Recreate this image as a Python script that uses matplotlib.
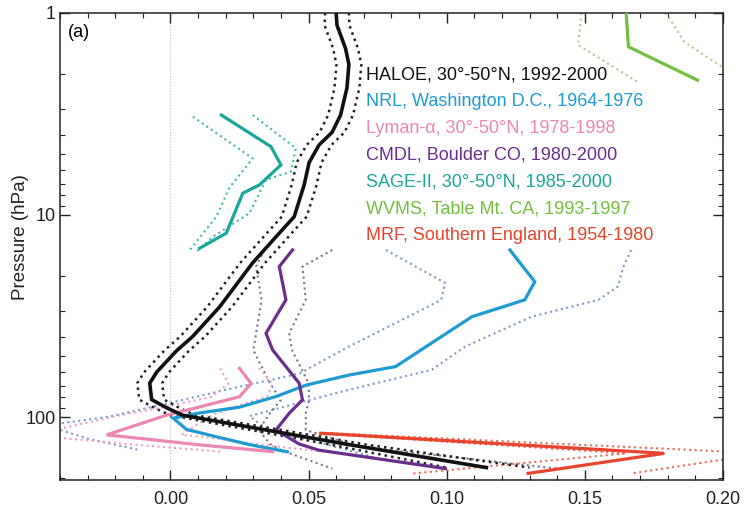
import matplotlib
matplotlib.use('Agg')
import matplotlib.pyplot as plt
from matplotlib.ticker import FixedLocator, FixedFormatter, LogLocator, NullFormatter, MultipleLocator

plt.rcParams['font.family'] = ['Liberation Sans', 'DejaVu Sans']

# ---------------- data (pressure in hPa, trend per year) ----------------
haloe_p = [1.0, 1.15, 1.5, 1.8, 2.35, 3.2, 3.9, 4.5, 5.5, 7.1, 10.2, 12.3, 17.3, 28.5,
           40, 47, 60, 68, 82, 90, 98, 137, 178]
haloe_x = [0.060, 0.0603, 0.0634, 0.0646, 0.0639, 0.0616, 0.0585, 0.0538, 0.0502, 0.0484,
           0.0448, 0.0394, 0.0297, 0.0178, 0.008, 0.0022, -0.005, -0.0075, -0.0068,
           -0.0014, 0.0044, 0.0646, 0.1144]
haloe_lo = [0.056, 0.0558, 0.0589, 0.0601, 0.0594, 0.0571, 0.0540, 0.0493, 0.0457, 0.0439,
            0.0403, 0.0349, 0.0252, 0.0133, 0.0035, -0.0023, -0.0095, -0.012, -0.0113,
            -0.0059, -0.0001, 0.058, 0.100]
haloe_hi = [0.0646, 0.0648, 0.0679, 0.0691, 0.0684, 0.0661, 0.0630, 0.0583, 0.0547, 0.0529,
            0.0493, 0.0439, 0.0342, 0.0223, 0.0125, 0.0067, -0.0005, -0.003, -0.0023,
            0.0031, 0.0089, 0.071, 0.130]

nrl_p = [14.9, 21.4, 26.3, 31.9, 56.3, 62, 69.6, 79.2, 89.4, 95.5, 101.3, 115.2, 125.2, 137, 148.7]
nrl_x = [0.1229, 0.1319, 0.1283, 0.1091, 0.0815, 0.0646, 0.049, 0.0382, 0.025, 0.0106,
         0.001, 0.0058, 0.0166, 0.0286, 0.0423]
nrl_lo_p = [14.9, 21.7, 26.3, 30.6, 44.8, 61, 72, 85, 99.5, 110, 128, 145]
nrl_lo_x = [0.078, 0.0995, 0.098, 0.0887, 0.0646, 0.0466, 0.0225, 0.0, -0.022, -0.045, -0.03, -0.012]
nrl_hi_p = [14.9, 18, 22.6, 26.3, 31.9, 44.8, 58.4, 73.3, 85, 99, 115, 135, 160]
nrl_hi_x = [0.1668, 0.164, 0.162, 0.155, 0.1307, 0.1067, 0.0946, 0.0646, 0.0466, 0.0286,
            0.035, 0.055, 0.075]

ly_p = [57.4, 68.2, 79.4, 89.1, 97.9, 122.6, 125.0, 137.4, 148.4]
ly_x = [0.025, 0.0292, 0.025, 0.0106, -0.0014, -0.0231, -0.0171, 0.0106, 0.037]
ly_lo = [0.018, 0.021, 0.015, -0.002, -0.018, -0.05, -0.045, -0.012, 0.018]
ly_hi = [0.032, 0.037, 0.035, 0.023, 0.015, 0.004, 0.011, 0.033, 0.056]

cm_p = [14.9, 18.0, 26.3, 38.5, 46.6, 68, 82.3, 95.8, 116, 136, 146, 180]
cm_x = [0.0442, 0.0394, 0.0418, 0.0346, 0.037, 0.0466, 0.0478, 0.043, 0.0382, 0.0466, 0.0538, 0.0995]
cm_lo = [0.034, 0.031, 0.033, 0.031, 0.030, 0.036, 0.040, 0.036, 0.032, 0.036, 0.040, 0.0586]
cm_hi = [0.0586, 0.0478, 0.049, 0.043, 0.044, 0.050, 0.0502, 0.049, 0.049, 0.065, 0.080, 0.140]

sg_p = [3.20, 4.59, 5.65, 7.1, 7.8, 12.3, 14.6]
sg_x = [0.0184, 0.0364, 0.040, 0.0322, 0.0262, 0.0202, 0.0106]
sg_lo_p = [3.26, 5.25, 7.3, 10.2, 14.9]
sg_lo_x = [0.0081, 0.0298, 0.0214, 0.0166, 0.007]
sg_hi_p = [3.2, 4.67, 6.1, 6.7, 9.8, 12.8, 15.2]
sg_hi_x = [0.0298, 0.0454, 0.0436, 0.0346, 0.0286, 0.0154, 0.0094]

wv_p = [1.0, 1.47, 2.15]
wv_x = [0.165, 0.1658, 0.1908]
wv_lo_p = [1.0, 1.44, 2.19]
wv_lo_x = [0.1488, 0.1476, 0.169]
wv_hi_p = [1.0, 1.06, 1.39, 1.81, 2.2]
wv_hi_x = [0.179, 0.1806, 0.186, 0.1986, 0.212]

mrf_p = [120.3, 151.3, 190.2]
mrf_x = [0.0544, 0.1788, 0.1295]
mrf_lo = [0.052, 0.165, 0.088]
mrf_hi = [0.058, 0.215, 0.167]

labels = ['HALOE, 30\u00b0-50\u00b0N, 1992-2000',
          'NRL, Washington D.C., 1964-1976',
          'Lyman-\u03b1, 30\u00b0-50\u00b0N, 1978-1998',
          'CMDL, Boulder CO, 1980-2000',
          'SAGE-II, 30\u00b0-50\u00b0N, 1985-2000',
          'WVMS, Table Mt. CA, 1993-1997',
          'MRF, Southern England, 1954-1980']
colors = ['#111111', '#1e9bd2', '#ee86b4', '#6a2e8e', '#1aa79b', '#74bf3e', '#e8432b']

# ---------------- figure ----------------
fig = plt.figure(figsize=(7.44, 5.15), dpi=100)
ax = fig.add_axes([0.0806, 0.068, 0.891, 0.9068])

ax.axvline(0.0, color='#bbbbbb', lw=0.8, ls=':', zorder=0)

def profile(px, x, col, lw=2.3, ls='-', z=3):
    ax.plot(x, px, color=col, lw=lw, ls=ls, zorder=z, solid_joinstyle='miter')

# bounds (dotted)
profile(wv_lo_p, wv_lo_x, '#b9c48e', 1.5, ':', 2)
profile(wv_hi_p, wv_hi_x, '#b9c48e', 1.5, ':', 2)
profile(sg_lo_p, sg_lo_x, '#3fb9b5', 1.5, ':', 2)
profile(sg_hi_p, sg_hi_x, '#3fb9b5', 1.5, ':', 2)
profile(nrl_lo_p, nrl_lo_x, '#7a9cc8', 1.5, ':', 2)
profile(nrl_hi_p, nrl_hi_x, '#7a9cc8', 1.5, ':', 2)
profile(cm_p, cm_lo, '#777788', 1.5, ':', 2)
profile(cm_p, cm_hi, '#777788', 1.5, ':', 2)
profile(ly_p, ly_lo, '#ef9fc0', 1.5, ':', 2)
profile(ly_p, ly_hi, '#ef9fc0', 1.5, ':', 2)
profile(mrf_p, mrf_lo, '#ee6a55', 1.5, ':', 2)
profile(mrf_p, mrf_hi, '#ee6a55', 1.5, ':', 2)
profile(haloe_p, haloe_lo, '#222222', 1.8, ':', 2)
profile(haloe_p, haloe_hi, '#222222', 1.8, ':', 2)

# solid profiles
profile(wv_p, wv_x, colors[5])
profile(sg_p, sg_x, colors[4])
profile(nrl_p, nrl_x, colors[1])
profile(ly_p, ly_x, colors[2])
profile(cm_p, cm_x, colors[3])
profile(mrf_p, mrf_x, colors[6])
profile(haloe_p, haloe_x, colors[0], lw=2.6, z=4)

ax.set_yscale('log')
ax.set_ylim(205, 1)
ax.set_xlim(-0.04, 0.20)

ax.yaxis.set_major_locator(FixedLocator([1, 10, 100]))
ax.yaxis.set_major_formatter(FixedFormatter(['1', '10', '100']))
ax.yaxis.set_minor_locator(LogLocator(base=10, subs=range(2, 10)))
ax.yaxis.set_minor_formatter(NullFormatter())
ax.xaxis.set_minor_locator(MultipleLocator(0.01))
ax.set_xticks([0.0, 0.05, 0.10, 0.15, 0.20])
ax.set_xticklabels(['0.00', '0.05', '0.10', '0.15', '0.20'])

ax.tick_params(which='both', direction='in', top=True, right=True, labelsize=13,
               color='#222222', labelcolor='#222222')
ax.tick_params(which='major', length=7, width=1.0)
ax.tick_params(which='minor', length=3.5, width=0.8)
ax.tick_params(axis='x', pad=8)
ax.tick_params(axis='y', pad=3)
for s in ax.spines.values():
    s.set_linewidth(1.1)
    s.set_color('#222222')

ax.set_ylabel('Pressure (hPa)', fontsize=13.5, color='#222222')
ax.yaxis.set_label_coords(-0.046, 0.52)

ax.text(0.012, 0.958, '(a)', transform=ax.transAxes, fontsize=13, va='center', ha='left')

for i, (lab, col) in enumerate(zip(labels, colors)):
    ax.text(0.4615, 0.867 - i * 0.0572, lab, color=col, fontsize=13,
            transform=ax.transAxes, va='center', ha='left', zorder=6)

fig.savefig('out.png', dpi=100)
